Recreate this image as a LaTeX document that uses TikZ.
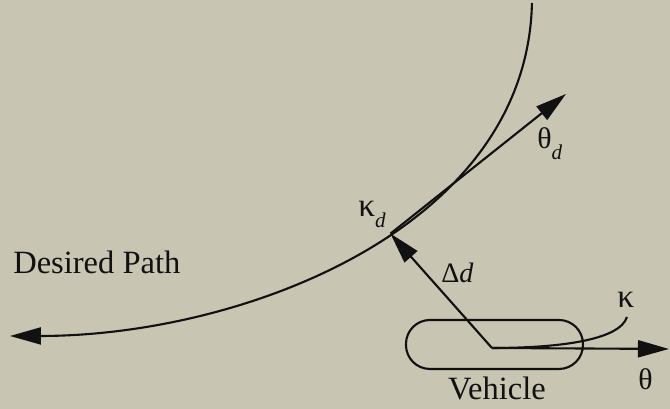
\documentclass[tikz,border=0pt]{standalone}
\usepackage{fontspec}
\setmainfont{Liberation Serif}
\usetikzlibrary{arrows.meta}

\begin{document}
\begin{tikzpicture}[x=0.02cm, y=-0.02cm,
    pathLine/.style={line width=1.2pt, draw=inkColour},
    bigArrow/.style={-{Triangle[length=0.62cm, width=0.34cm]}},
    textLabel/.style={font=\fontsize{18.5}{22}\selectfont, inner sep=0pt, text=inkColour},
    greekLabel/.style={font=\fontsize{17}{20}\selectfont, inner sep=0pt, text=inkColour},
    kappaLabelStyle/.style={font=\fontsize{19}{22}\selectfont, inner sep=0pt, text=inkColour},
    subLabel/.style={font=\fontsize{16}{19}\selectfont, inner sep=0pt, text=inkColour}]

    \definecolor{paperColour}{HTML}{C8C5B3}
    \definecolor{inkColour}{HTML}{111111}

    % Draw background
    \fill[paperColour] (0,0) rectangle (670,409);

    % Key points
    \coordinate (pathTop) at (532,3);
    \coordinate (pathEnd) at (10,336);
    \coordinate (thetaDTip) at (566,94);
    \coordinate (car) at (492,348);
    \coordinate (thetaTip) at (669,349);
    \coordinate (kappaEnd) at (627,317);

    % Desired path, with the point kappa_d on it
    \draw[pathLine, bigArrow] (pathTop) .. controls (527,230) and (240,336) .. (pathEnd)
        coordinate[pos=0.44] (kappaD);

    % Vehicle body
    \draw[pathLine, rounded corners=0.48cm] (406,320) rectangle (583,369);

    % Arrows from the vehicle and the path point
    \draw[pathLine, bigArrow] (car) -- (kappaD);
    \draw[pathLine, bigArrow] (kappaD) -- (thetaDTip);
    \draw[pathLine, bigArrow] (car) -- (thetaTip);
    \draw[pathLine] (car) .. controls (560,348) and (620,340) .. (kappaEnd);

    % Labels
    \node[textLabel, anchor=base west] (pathLabel) at (13,274) {Desired Path};
    \node[textLabel, anchor=base] (vehicleLabel) at (497,400) {Vehicle};
    \node[greekLabel, anchor=base west] (thetaDLabel) at (537,149)
        {θ\raisebox{-6pt}{\fontsize{12}{12}\selectfont\itshape d}};
    \node[kappaLabelStyle, anchor=base west] (kappaDLabel) at (358,217)
        {κ\raisebox{-6pt}{\fontsize{12}{12}\selectfont\itshape d}};
    \node[subLabel, anchor=base west] (deltaLabel) at (441,283) {Δ\textit{d}};
    \node[kappaLabelStyle, anchor=base west] (kappaLabel) at (617,308) {κ};
    \node[greekLabel, anchor=base west] (thetaLabel) at (638,390) {θ};

\end{tikzpicture}
\end{document}
